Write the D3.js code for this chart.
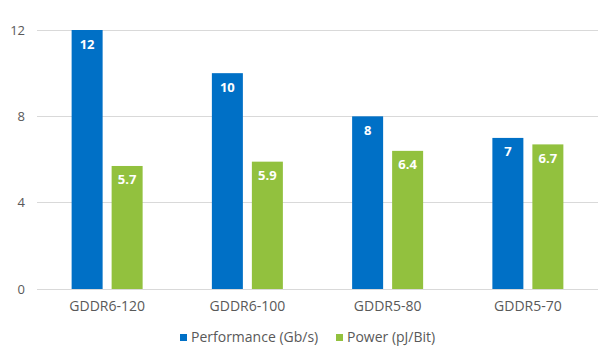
<!DOCTYPE html>
<html><head><meta charset="utf-8">
<script src="https://cdn.jsdelivr.net/npm/d3@7"></script>
<style>body{margin:0;background:#fff;font-family:"Open Sans","Noto Sans",sans-serif;}</style>
</head><body>
<svg id="c" width="609" height="355"></svg>
<script>
const categories = ["GDDR6-120","GDDR6-100","GDDR5-80","GDDR5-70"];
const performance = [12,10,8,7];
const power = [5.7,5.9,6.4,6.7];
const seriesNames = ["Performance (Gb/s)","Power (pJ/Bit)"];
const yTicks = [0,4,8,12];
const colors = ["#0070C6","#92C13E"];

(function(){
const svg = d3.select("#c");
const mLeft = 37, mRight = 598, mTop = 30, mBottom = 289;
const x = d3.scaleBand().domain(categories).range([mLeft,mRight]);
const y = d3.scaleLinear().domain([0,12]).range([mBottom,mTop]);
const barW = 31, gap = 9;

svg.append("g").selectAll("line").data(yTicks).join("line")
  .attr("x1",mLeft).attr("x2",mRight).attr("y1",d=>y(d)).attr("y2",d=>y(d))
  .attr("stroke","#d9d9d9").attr("stroke-width",1).attr("shape-rendering","crispEdges");

const yAxis = d3.axisLeft(y).tickValues(yTicks).tickSize(0).tickPadding(0);
const ga = svg.append("g").attr("transform",`translate(25,0)`).call(yAxis);
ga.select(".domain").remove();
ga.selectAll("text").attr("fill","#595959").style("font-size","13px").style("font-family","'Open Sans',sans-serif");

const xAxis = d3.axisBottom(x).tickSize(0).tickPadding(0);
const gx = svg.append("g").attr("transform",`translate(0,${mBottom+12})`).call(xAxis);
gx.select(".domain").remove();
gx.selectAll("text").attr("fill","#595959").style("font-size","14px").style("font-family","'Open Sans',sans-serif");

const data = [performance, power];
data.forEach((vals, si) => {
  const g = svg.append("g");
  const xs = (d,i) => x(categories[i]) + x.bandwidth()/2 - (barW + gap/2) + si*(barW+gap);
  g.selectAll("rect").data(vals).join("rect")
    .attr("x",xs).attr("width",barW)
    .attr("y",d=>y(d)).attr("height",d=>y(0)-y(d))
    .attr("fill",colors[si]);
  g.selectAll("text").data(vals).join("text")
    .attr("x",(d,i)=>xs(d,i)+barW/2).attr("y",d=>y(d)+18.5)
    .attr("text-anchor","middle").attr("fill","#fff")
    .style("font-weight","bold").style("font-size","13px")
    .text(d=>d);
});

const legX = [180,336];
seriesNames.forEach((n,i)=>{
  const g = svg.append("g").attr("transform",`translate(${legX[i]},342)`);
  g.append("rect").attr("x",0).attr("y",-8).attr("width",7).attr("height",7).attr("fill",colors[i]);
  g.append("text").attr("x",11).attr("y",0).attr("fill","#595959").style("font-size","14px").text(n);
});
})();
</script>
</body></html>
